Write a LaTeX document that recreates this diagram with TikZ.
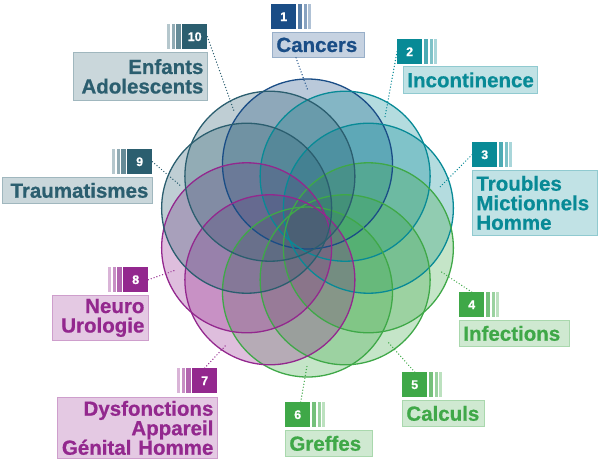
\documentclass[tikz,border=0pt]{standalone}
\usepackage{fontspec}
\setmainfont{Liberation Sans}
\newfontfamily\labfont{Liberation Sans}[FakeBold=0.7]
\definecolor{cblue}{HTML}{1A4D86}
\definecolor{cteal}{HTML}{088A96}
\definecolor{cgreen}{HTML}{3FA848}
\definecolor{cpurple}{HTML}{93288E}
\definecolor{cslate}{HTML}{2B5E6F}
\newcommand\mystripesR[2]{%
  \fill[#2!72] ([xshift=1.5pt]#1.north east) rectangle ++(4.5,25);
  \fill[#2!52] ([xshift=7.5pt]#1.north east) rectangle ++(3,25);
  \fill[#2!35] ([xshift=12pt]#1.north east) rectangle ++(3,25);}
\newcommand\mystripesL[2]{%
  \fill[#2!72] ([xshift=-1.5pt]#1.north west) rectangle ++(-4.5,25);
  \fill[#2!52] ([xshift=-7.5pt]#1.north west) rectangle ++(-3,25);
  \fill[#2!35] ([xshift=-12pt]#1.north west) rectangle ++(-3,25);}
\begin{document}
\begin{tikzpicture}[x=1pt,y=-1pt,
  numbox/.style={fill=#1, text=white, minimum width=25pt, minimum height=25pt, inner sep=0pt,
    font=\labfont\bfseries\fontsize{12.5}{12.5}\selectfont, anchor=north west},
  labbox/.style={draw=#1!45, fill=#1!25, text=#1, line width=0.8pt, inner xsep=4pt, inner ysep=0pt,
    anchor=north west, font=\labfont\bfseries\fontsize{20.5}{19.5}\selectfont},
  dotline/.style={#1, line width=1.4pt, dash pattern=on 0pt off 3pt, line cap=round}]
\useasboundingbox (0,0) rectangle (604,474);
% circles
\foreach \k/\col in {1/cblue,2/cteal,3/cteal,4/cgreen,5/cgreen,6/cgreen,7/cpurple,8/cpurple,9/cslate,10/cslate}{
  \node[circle, inner sep=0pt, minimum size=170pt, fill=\col, fill opacity=0.3] (c\k)
    at ({307.5+64*cos(90-36*(\k-1))},{228-64*sin(90-36*(\k-1))}) {};
}
\foreach \k/\col in {1/cblue,2/cteal,3/cteal,4/cgreen,5/cgreen,6/cgreen,7/cpurple,8/cpurple,9/cslate,10/cslate}{
  \draw[\col, line width=1.3pt] (c\k.center) circle[radius=85pt];
}
% number boxes
\node[numbox=cblue] (n1) at (271,4) {1};
\node[numbox=cteal] (n2) at (397,39) {2};
\node[numbox=cteal] (n3) at (472,142) {3};
\node[numbox=cgreen] (n4) at (459,292) {4};
\node[numbox=cgreen] (n5) at (402,372) {5};
\node[numbox=cgreen] (n6) at (285,402) {6};
\node[numbox=cpurple] (n7) at (192,368) {7};
\node[numbox=cpurple] (n8) at (123,267) {8};
\node[numbox=cslate] (n9) at (127,149) {9};
\node[numbox=cslate] (n10) at (182,24) {10};
\mystripesR{n1}{cblue}
\mystripesR{n2}{cteal}
\mystripesR{n3}{cteal}
\mystripesR{n4}{cgreen}
\mystripesR{n5}{cgreen}
\mystripesR{n6}{cgreen}
\mystripesL{n7}{cpurple}
\mystripesL{n8}{cpurple}
\mystripesL{n9}{cslate}
\mystripesL{n10}{cslate}
% label boxes
\node[labbox=cblue, minimum height=25pt, text width=84pt, align=left] (l1) at (272,32) {Cancers};
\node[labbox=cteal, minimum height=27pt, text width=126pt, align=left] (l2) at (403,66) {Incontinence};
\node[labbox=cteal, minimum height=65pt, text width=117pt, align=left] (l3) at (472,170) {Troubles\\Mictionnels\\Homme};
\node[labbox=cgreen, minimum height=26pt, text width=102pt, align=left] (l4) at (459,320) {Infections};
\node[labbox=cgreen, minimum height=26pt, text width=74pt, align=left] (l5) at (402,400) {Calculs};
\node[labbox=cgreen, minimum height=26pt, text width=79pt, align=left] (l6) at (285,430) {Greffes};
\node[labbox=cpurple, minimum height=61pt, text width=152pt, align=right] (l7) at (57,397) {Dysfonctions\\Appareil\\Génital Homme};
\node[labbox=cpurple, minimum height=45pt, text width=88pt, align=right] (l8) at (52,295) {Neuro\\Urologie};
\node[labbox=cslate, minimum height=26pt, text width=142pt, align=right] (l9) at (2,177) {Traumatismes};
\node[labbox=cslate, minimum height=48pt, text width=126pt, align=right] (l10) at (73,52) {Enfants\\Adolescents};
% connector ends
\coordinate (e1) at (308,91);
\coordinate (e2) at (385,117);
\coordinate (e3) at (440,187);
\coordinate (e4) at (440,271);
\coordinate (e5) at (388,342);
\coordinate (e6) at (307,366);
\coordinate (e7) at (227,344);
\coordinate (e8) at (176,270);
\coordinate (e9) at (182,187);
\coordinate (e10) at (234,111);
\draw[dotline=cblue] ([xshift=24pt]l1.south west) -- (e1);
\draw[dotline=cteal] (n2.west) -- (e2);
\draw[dotline=cteal] (n3.west) -- (e3);
\draw[dotline=cgreen] (n4.north) -- (e4);
\draw[dotline=cgreen] (n5.north) -- (e5);
\draw[dotline=cgreen] ([xshift=3pt]n6.north) -- (e6);
\draw[dotline=cpurple] (n7.north) -- (e7);
\draw[dotline=cpurple] (n8.east) -- (e8);
\draw[dotline=cslate] (n9.east) -- (e9);
\draw[dotline=cslate] (n10.east) -- (e10);
\end{tikzpicture}
\end{document}
